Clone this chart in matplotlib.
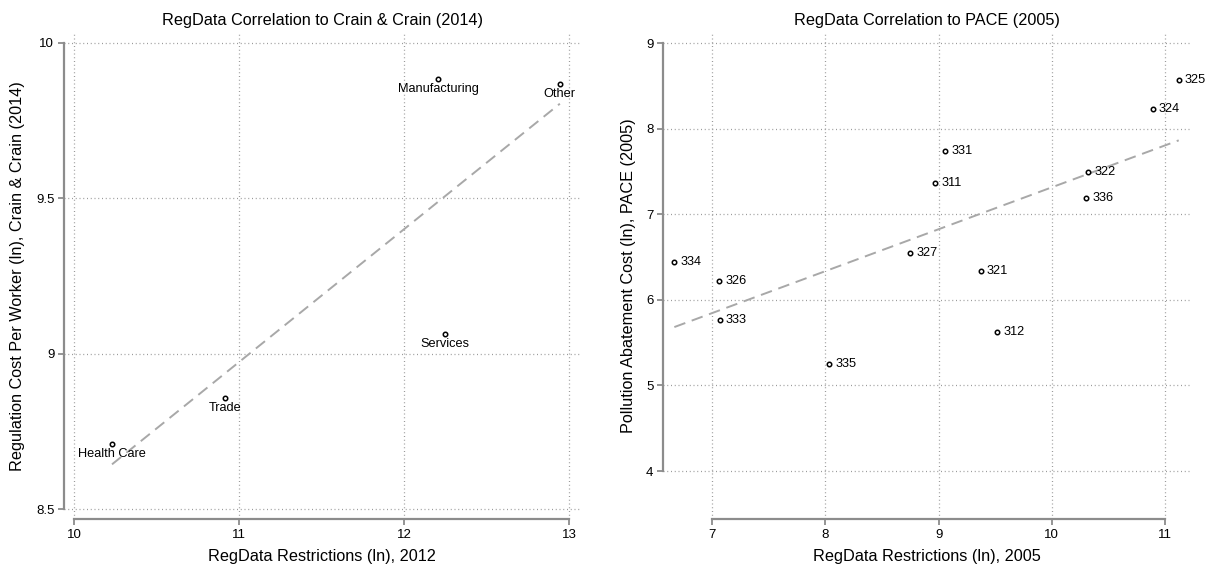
import numpy as np
import matplotlib.pyplot as plt

plt.rcParams['font.family'] = ['Liberation Sans', 'DejaVu Sans']

# Crain & Crain (2014) panel
sectors = ["Health Care", "Trade", "Services", "Manufacturing", "Other"]
restr_2012 = [10.23, 10.915, 12.248, 12.208, 12.945]
cost_per_worker = [8.709, 8.859, 9.063, 9.883, 9.867]

# PACE (2005) panel
naics = ["325", "324", "331", "311", "322", "336", "327", "321", "334", "326", "333", "312", "335"]
restr_2005 = [11.12, 10.89, 9.057, 8.97, 10.32, 10.30, 8.746, 9.37, 6.667, 7.065, 7.068, 9.517, 8.033]
pace_cost = [8.565, 8.234, 7.743, 7.368, 7.50, 7.193, 6.547, 6.34, 6.439, 6.226, 5.763, 5.629, 5.255]

axis_gray = '#8c8c8c'
grid_gray = '#9a9a9a'
fit_gray = '#a8a8a8'


def style_axes(ax, xticks, yticks):
    for s in ['top', 'right']:
        ax.spines[s].set_visible(False)
    for s in ['left', 'bottom']:
        ax.spines[s].set_color(axis_gray)
        ax.spines[s].set_linewidth(1.6)
    ax.spines['left'].set_bounds(yticks[0], yticks[-1])
    ax.spines['bottom'].set_bounds(xticks[0], xticks[-1])
    ax.set_xticks(xticks)
    ax.set_yticks(yticks)
    ax.tick_params(axis='both', color=axis_gray, width=1.3, length=4.5,
                   labelsize=9.5, pad=2.5)
    ax.grid(True, linestyle=(0, (0.8, 2.2)), color=grid_gray, linewidth=0.9)
    ax.set_axisbelow(True)


def fit_line(ax, x, y):
    b, a = np.polyfit(x, y, 1)
    xs = np.array([min(x), max(x)])
    ax.plot(xs, a + b * xs, color=fit_gray, linewidth=1.4, dashes=(6, 3.5), zorder=2)


fig = plt.figure(figsize=(12.11, 5.67), dpi=100)

# left panel
ax1 = fig.add_axes([0.05285, 0.08466, 0.4265, 0.8571])
style_axes(ax1, [10, 11, 12, 13], [8.5, 9, 9.5, 10])
ax1.set_yticklabels(['8.5', '9', '9.5', '10'])
ax1.set_xlim(9.939, 13.07)
ax1.set_ylim(8.468, 10.032)
fit_line(ax1, restr_2012, cost_per_worker)
ax1.plot(restr_2012, cost_per_worker, 'o', mfc='white', mec='black', ms=3.2, mew=1.1, zorder=3)
for name, x, y in zip(sectors, restr_2012, cost_per_worker):
    ax1.annotate(name, (x, y), xytext=(0, -3), textcoords='offset points',
                 ha='center', va='top', fontsize=9.2)
ax1.set_title("RegData Correlation to Crain & Crain (2014)", fontsize=11.7, pad=5.5)
ax1.set_xlabel("RegData Restrictions (ln), 2012", fontsize=11.7, labelpad=6)
ax1.set_ylabel("Regulation Cost Per Worker (ln), Crain & Crain (2014)", fontsize=11.7, labelpad=7.5)

# right panel
ax2 = fig.add_axes([0.5475, 0.08466, 0.4352, 0.8571])
style_axes(ax2, [7, 8, 9, 10, 11], [4, 5, 6, 7, 8, 9])
ax2.set_xlim(6.567, 11.22)
ax2.set_ylim(3.439, 9.12)
fit_line(ax2, restr_2005, pace_cost)
ax2.plot(restr_2005, pace_cost, 'o', mfc='white', mec='black', ms=3.2, mew=1.1, zorder=3)
for name, x, y in zip(naics, restr_2005, pace_cost):
    ax2.annotate(name, (x, y), xytext=(4.5, 0), textcoords='offset points',
                 ha='left', va='center', fontsize=9.2)
ax2.set_title("RegData Correlation to PACE (2005)", fontsize=11.7, pad=5.5)
ax2.set_xlabel("RegData Restrictions (ln), 2005", fontsize=11.7, labelpad=6)
ax2.set_ylabel("Pollution Abatement Cost (ln), PACE (2005)", fontsize=11.7, labelpad=7.5)

fig.savefig("out.png", dpi=100)
